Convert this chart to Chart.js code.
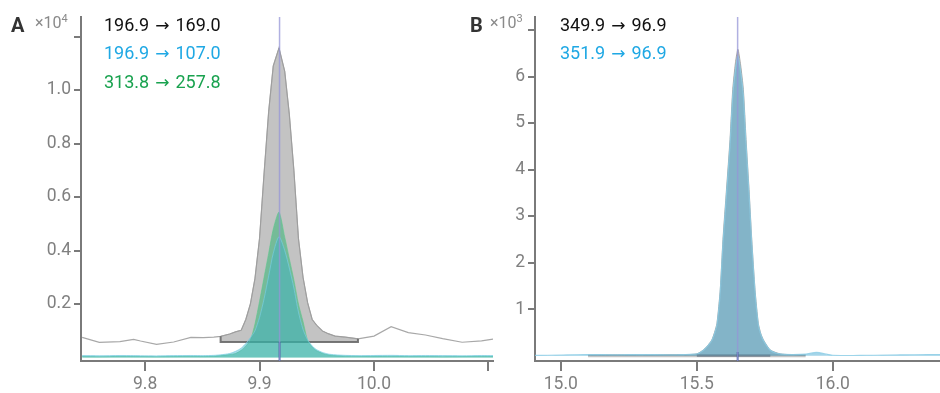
<!DOCTYPE html>
<html>
<head>
<meta charset="utf-8">
<script src="https://cdn.jsdelivr.net/npm/chart.js@4.4.1/dist/chart.umd.min.js"></script>
<style>
  body { margin: 0; background: #fff; font-family: Roboto, "Noto Sans", sans-serif; }
  #wrap { position: relative; width: 940px; height: 393px; overflow: hidden; }
  .panel { position: absolute; top: 0; height: 393px; }
  .txt { position: absolute; white-space: nowrap; }
  .letter { font-size: 20px; font-weight: bold; line-height: 20px; color: #333; }
  .exp { font-size: 16px; line-height: 16px; color: #8a8a8a; }
  .exp sup { font-size: 11px; vertical-align: 6px; line-height: 0; }
  .ann { font-size: 18px; line-height: 27.3px; }
  .arr { font-family: "DejaVu Sans", sans-serif; font-size: 17px; margin: 0 1.5px; }
</style>
</head>
<body>
<div id="wrap">
  <div class="panel" style="left:0;width:495px"><canvas id="chartA"></canvas></div>
  <div class="panel" style="left:495px;width:445px"><canvas id="chartB"></canvas></div>

  <div class="txt letter" style="left:11px;top:15px">A</div>
  <div class="txt exp" style="left:35px;top:15px">×10<sup>4</sup></div>
  <div class="txt ann" style="left:104px;top:11px">
    <div style="color:#111">196.9 <span class="arr">→</span> 169.0</div>
    <div style="color:#1fa8e4">196.9 <span class="arr">→</span> 107.0</div>
    <div style="color:#19a24f">313.8 <span class="arr">→</span> 257.8</div>
  </div>

  <div class="txt letter" style="left:470px;top:15px">B</div>
  <div class="txt exp" style="left:490px;top:15px">×10<sup>3</sup></div>
  <div class="txt ann" style="left:560px;top:11px">
    <div style="color:#111">349.9 <span class="arr">→</span> 96.9</div>
    <div style="color:#1fa8e4">351.9 <span class="arr">→</span> 96.9</div>
  </div>
</div>

<script>
// ---- panel A : retention time (min) and intensities ----
var tA = [9.745, 9.760, 9.778, 9.790, 9.796, 9.810, 9.825, 9.840, 9.851, 9.860,
          9.866, 9.874, 9.879, 9.884, 9.888, 9.892, 9.896, 9.900, 9.904, 9.908,
          9.912, 9.917, 9.922, 9.926, 9.930, 9.934, 9.938, 9.942, 9.946, 9.950,
          9.955, 9.960, 9.966, 9.975, 9.986, 10.000, 10.015, 10.030, 10.045, 10.060,
          10.077, 10.094, 10.104];
var greyA = [755, 568, 590, 680, 617, 490, 580, 755, 740, 765,
             790, 880, 960, 1020, 1420, 2000, 2950, 4450, 6900, 9200,
             10900, 11570, 10700, 9100, 7000, 4450, 3000, 2050, 1420, 1200,
             990, 890, 800, 760, 700, 800, 1150, 930, 840, 705,
             570, 620, 690];
var greenA = [35, 30, 40, 35, 35, 30, 35, 40, 35, 45,
              70, 110, 150, 270, 430, 650, 1250, 2100, 3000, 3900,
              4800, 5430, 4500, 3700, 2900, 2000, 1350, 640, 400, 250,
              160, 100, 70, 50, 40, 35, 40, 35, 35, 30,
              35, 40, 35];
var cyanA = [70, 65, 75, 70, 65, 60, 70, 75, 70, 80,
             100, 150, 230, 350, 520, 740, 1000, 1500, 2200, 3050,
             3900, 4516, 4000, 3350, 2600, 1700, 1050, 660, 430, 290,
             190, 130, 100, 80, 70, 75, 80, 70, 75, 70,
             65, 75, 70];
var intA = [9.866, 9.986];   // integration window of the grey trace
var intBaseA = 580;
var rtA = 9.9175;

// ---- panel B ----
var tB = [14.905, 15.0, 15.1, 15.2, 15.3, 15.4, 15.45, 15.50, 15.524, 15.540,
          15.555, 15.565, 15.574, 15.586, 15.596, 15.609, 15.622, 15.632, 15.642, 15.651,
          15.661, 15.671, 15.681, 15.692, 15.702, 15.714, 15.726, 15.735, 15.745, 15.770,
          15.806, 15.85, 15.9, 15.94, 15.98, 16.0, 16.1, 16.2, 16.3, 16.394];
var greyB = [null, null, 10, 15, 12, 18, 20, 40, 123, 220,
             338, 500, 698, 1416, 2494, 3571, 4649, 5726, 6300, 6588,
             6250, 5726, 4649, 3571, 2494, 1416, 698, 480, 338, 123,
             40, 20, 15, null, null, null, null, null, null, null];
var cyanB = [5, 15, 25, 20, 25, 20, 25, 38, 118, 210,
             325, 480, 670, 1370, 2420, 3480, 4540, 5600, 6160, 6440,
             6120, 5600, 4540, 3480, 2420, 1370, 670, 460, 325, 118,
             38, 25, 35, 70, 30, 10, 5, 15, 20, 25];
var intGreyB = [15.1, 15.9];
var intCyanB = [15.50, 15.77];
var rtB = 15.65;

// ---- ticks ----
var xTicksA = [9.8, 9.9, 10.0, 10.1];
var xLabelsA = ['9.8', '9.9', '10.0', ''];
var yTicksA = [2000, 4000, 6000, 8000, 10000, 12000];
var yLabelsA = ['0.2', '0.4', '0.6', '0.8', '1.0', ''];
var xTicksB = [15.0, 15.5, 16.0];
var xLabelsB = ['15.0', '15.5', '16.0'];
var yTicksB = [1000, 2000, 3000, 4000, 5000, 6000, 7000];
var yLabelsB = ['1', '2', '3', '4', '5', '6', ''];

var axisGrey = '#7a7a7a';
var tickFont = { family: 'Roboto', size: 17.5 };

function pts(t, v, from, to) {
  var out = [];
  for (var i = 0; i < t.length; i++) {
    if (v[i] === null) continue;
    if (from !== undefined && (t[i] < from - 1e-9 || t[i] > to + 1e-9)) continue;
    out.push({ x: t[i], y: v[i] });
  }
  return out;
}
function valueAt(t, v, x) {
  return v[t.indexOf(x)];
}

function axes(o) {
  return {
    x: {
      type: 'linear', min: o.xMin, max: o.xMax,
      afterFit: function (s) { s.height = 32; },
      afterBuildTicks: function (s) { s.ticks = o.xTicks.map(function (v) { return { value: v }; }); },
      ticks: { callback: function (v, i) { return o.xLabels[i]; }, font: tickFont, color: '#808080', padding: 3, autoSkip: false, maxRotation: 0 },
      grid: { drawOnChartArea: false, color: axisGrey, lineWidth: 2, tickLength: 10 },
      border: { color: axisGrey, width: 2 }
    },
    y: {
      type: 'linear', min: o.yMin, max: o.yMax,
      afterFit: function (s) { s.width = o.yWidth; },
      afterBuildTicks: function (s) { s.ticks = o.yTicks.map(function (v) { return { value: v }; }); },
      ticks: { callback: function (v, i) { return o.yLabels[i]; }, font: tickFont, color: '#808080', padding: 3, autoSkip: false },
      grid: { drawOnChartArea: false, color: axisGrey, lineWidth: 2, tickLength: 7 },
      border: { color: axisGrey, width: 2 }
    }
  };
}

var common = {
  responsive: true,
  maintainAspectRatio: false,
  animation: false,
  plugins: { legend: { display: false }, tooltip: { enabled: false } },
  elements: { point: { radius: 0 } }
};

// panel A
var yMinA = -131, yMaxA = 12730;
var gA0 = valueAt(tA, greyA, intA[0]), gA1 = valueAt(tA, greyA, intA[1]);
new Chart(document.getElementById('chartA'), {
  type: 'line',
  data: {
    datasets: [
      { data: [{ x: rtA, y: yMinA }, { x: rtA, y: yMaxA }], borderColor: 'rgba(150,150,215,0.75)', borderWidth: 1.5, order: 0 },
      { data: [{ x: rtA, y: yMinA }, { x: rtA, y: intBaseA }], borderColor: 'rgba(40,70,140,0.85)', borderWidth: 1.8, order: 0 },
      { data: pts(tA, cyanA), borderColor: 'rgba(120,205,225,0.7)', borderWidth: 1, backgroundColor: 'rgba(60,175,200,0.45)', fill: 'origin', tension: 0.25, order: 1 },
      { data: pts(tA, greenA), borderColor: 'rgba(90,200,140,0.6)', borderWidth: 1, backgroundColor: 'rgba(40,180,110,0.5)', fill: 'origin', tension: 0.25, order: 2 },
      { data: [{ x: intA[0], y: gA0 }, { x: intA[0], y: intBaseA }, { x: intA[1], y: intBaseA }, { x: intA[1], y: gA1 }], borderColor: 'rgba(105,105,105,0.9)', borderWidth: 2, order: 3 },
      { data: pts(tA, greyA, intA[0], intA[1]), borderColor: 'rgba(155,155,155,0.8)', borderWidth: 1, backgroundColor: 'rgba(170,170,170,0.7)', fill: { value: intBaseA }, order: 4 },
      { data: pts(tA, greyA), borderColor: '#a8a8a8', borderWidth: 1.2, order: 5 }
    ]
  },
  options: Object.assign({}, common, {
    layout: { padding: { top: 17, right: 2, left: 0, bottom: 0 } },
    scales: axes({ xMin: 9.744, xMax: 10.104, yMin: yMinA, yMax: yMaxA, yWidth: 81,
                   xTicks: xTicksA, xLabels: xLabelsA, yTicks: yTicksA, yLabels: yLabelsA })
  })
});

// panel B
var yMinB = -114, yMaxB = 7280;
new Chart(document.getElementById('chartB'), {
  type: 'line',
  data: {
    datasets: [
      { data: [{ x: rtB, y: yMinB }, { x: rtB, y: yMaxB }], borderColor: 'rgba(150,150,215,0.75)', borderWidth: 1.5, order: 0 },
      { data: [{ x: rtB, y: yMinB }, { x: rtB, y: 80 }], borderColor: 'rgba(40,70,140,0.85)', borderWidth: 1.8, order: 0 },
      { data: [{ x: intCyanB[0], y: 0 }, { x: intCyanB[1], y: 0 }], borderColor: 'rgba(80,100,120,0.5)', borderWidth: 2.5, order: 1 },
      { data: pts(tB, cyanB), borderColor: 'rgba(140,205,230,0.8)', borderWidth: 1.2, backgroundColor: 'rgba(74,172,212,0.5)', fill: 'origin', tension: 0.2, order: 2 },
      { data: [{ x: intGreyB[0], y: 0 }, { x: intGreyB[1], y: 0 }], borderColor: 'rgba(140,140,140,0.5)', borderWidth: 3, order: 3 },
      { data: pts(tB, greyB), borderColor: 'rgba(150,150,150,0.8)', borderWidth: 1, backgroundColor: 'rgba(160,160,160,0.7)', fill: 'origin', tension: 0.2, order: 4 }
    ]
  },
  options: Object.assign({}, common, {
    layout: { padding: { top: 17, right: 0, left: 0, bottom: 0 } },
    scales: axes({ xMin: 14.905, xMax: 16.394, yMin: yMinB, yMax: yMaxB, yWidth: 40,
                   xTicks: xTicksB, xLabels: xLabelsB, yTicks: yTicksB, yLabels: yLabelsB })
  })
});
</script>
</body>
</html>
